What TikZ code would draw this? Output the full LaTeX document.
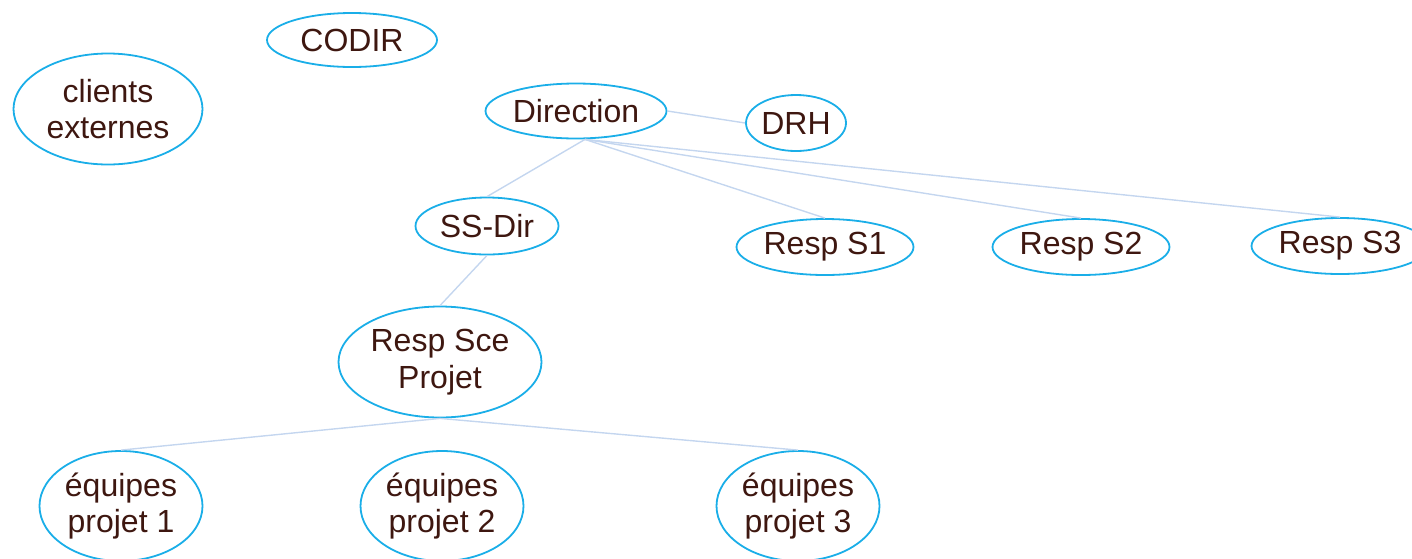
\documentclass[tikz,border=0pt]{standalone}
\usepackage{fontspec}
\setmainfont{Liberation Sans}
\usetikzlibrary{shapes.geometric}
\definecolor{elcol}{HTML}{1AAEE8}
\definecolor{txtcol}{HTML}{3E1710}
\definecolor{edgecol}{HTML}{C4D6EF}
\tikzset{
  orgnode/.style={ellipse, draw=elcol, line width=0.9pt, inner sep=0pt, text=txtcol,
    font=\fontsize{16}{18.3}\selectfont, align=center},
  link/.style={draw=edgecol, line width=0.7pt}
}
\begin{document}
\begin{tikzpicture}[x=0.5pt,y=-0.5pt]
\useasboundingbox (0,0) rectangle (1412,558);
\node[orgnode, minimum width=85pt, minimum height=27pt] (codir) at (352,40) {CODIR};
\node[orgnode, minimum width=94.5pt, minimum height=55.5pt] (clients) at (108,109) {clients\\externes};
\node[orgnode, minimum width=90.5pt, minimum height=27.5pt] (dir) at (576,111) {Direction};
\node[orgnode, minimum width=50pt, minimum height=28pt] (drh) at (796,123) {DRH};
\node[orgnode, minimum width=71.5pt, minimum height=28.5pt] (ssdir) at (487,226) {SS-Dir};
\node[orgnode, minimum width=88.5pt, minimum height=28pt] (s1) at (825,247) {Resp S1};
\node[orgnode, minimum width=88.5pt, minimum height=28pt] (s2) at (1081,247) {Resp S2};
\node[orgnode, minimum width=88.5pt, minimum height=28pt] (s3) at (1340,246) {Resp S3};
\node[orgnode, minimum width=101.5pt, minimum height=55.5pt] (rsp) at (440,362) {Resp Sce\\Projet};
\node[orgnode, minimum width=81.5pt, minimum height=55pt] (e1) at (121,506) {équipes\\projet 1};
\node[orgnode, minimum width=81.5pt, minimum height=55pt] (e2) at (442,506) {équipes\\projet 2};
\node[orgnode, minimum width=81.5pt, minimum height=55pt] (e3) at (798,506) {équipes\\projet 3};
\coordinate (dirs) at ([xshift=4.5pt]dir.south);
\path[link] (dir.east) -- (drh.west);
\path[link] (dirs) -- (ssdir.north);
\path[link] (dirs) -- (s1.north);
\path[link] (dirs) -- (s2.north);
\path[link] (dirs) -- (s3.north);
\path[link] (ssdir.south) -- (rsp.north);
\path[link] (rsp.south) -- (e1.north);
\path[link] (rsp.south) -- (e3.north);
\end{tikzpicture}
\end{document}
